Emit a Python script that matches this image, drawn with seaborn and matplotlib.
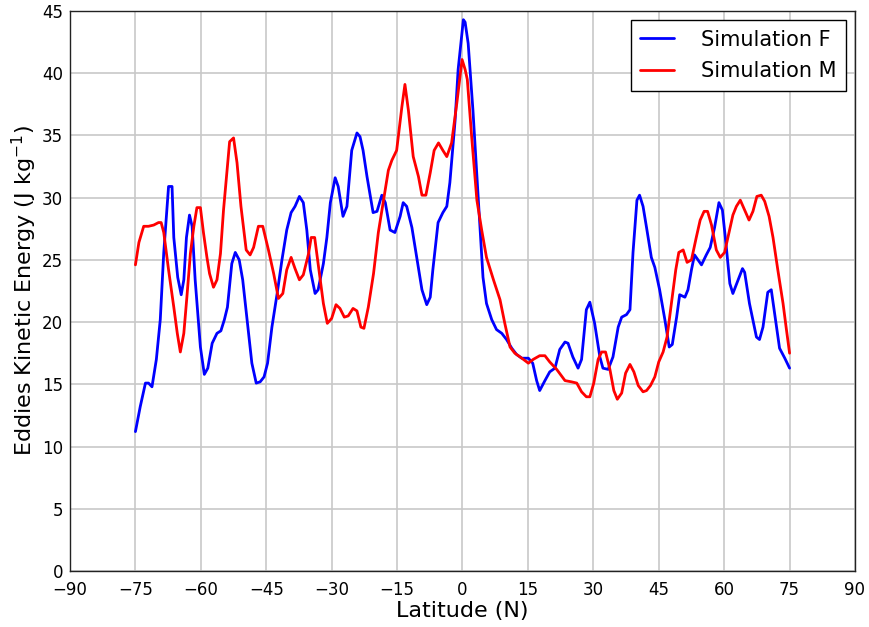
import numpy as np
import pandas as pd
import matplotlib
matplotlib.use("Agg")
import matplotlib.pyplot as plt
import seaborn as sns

lat_f = [-75.0, -73.9, -72.7, -72.0, -71.2, -70.2, -69.3, -68.5, -67.4, -66.6, -66.2, -65.3, -64.5,
         -63.9, -63.3, -62.6, -62.0, -61.3, -60.1, -59.2, -58.4, -57.4, -56.3, -55.4, -54.6, -53.9,
         -52.9, -52.1, -51.2, -50.4, -49.4, -48.3, -47.3, -46.4, -45.5, -44.7, -43.7, -42.5, -41.4,
         -40.3, -39.3, -38.4, -37.4, -36.5, -35.7, -34.9, -33.8, -33.1, -31.9, -31.1, -30.3, -29.2,
         -28.5, -27.4, -26.5, -25.4, -24.2, -23.5, -22.8, -21.9, -20.5, -19.6, -18.5, -17.7, -16.6,
         -15.5, -14.3, -13.6, -12.8, -11.6, -10.5, -9.3, -8.2, -7.4, -6.8, -5.6, -4.5, -3.6, -2.9,
         -1.7, -1.0, 0.2, 0.6, 1.3, 2.4, 3.3, 4.0, 4.7, 5.5, 6.7, 7.8, 9.0, 10.1, 11.3, 12.4, 13.6,
         15.1, 16.1, 17.0, 17.7, 18.9, 20.0, 21.2, 22.3, 23.5, 24.2, 25.3, 26.5, 27.3, 28.4, 29.2,
         30.3, 31.5, 32.2, 33.4, 34.5, 35.7, 36.5, 37.6, 38.4, 39.1, 40.0, 40.6, 41.4, 42.2, 43.3,
         44.1, 45.2, 46.4, 47.4, 48.1, 49.1, 49.8, 51.0, 51.7, 52.5, 53.2, 54.8, 55.9, 56.8, 57.8,
         58.8, 59.6, 60.5, 61.3, 62.0, 63.2, 64.2, 64.7, 65.8, 67.4, 68.1, 68.9, 70.0, 70.8, 72.0,
         72.7, 73.9, 75.0]
eke_f = [11.2, 13.2, 15.1, 15.1, 14.8, 17.0, 20.2, 25.6, 30.9, 30.9, 26.8, 23.6, 22.2,
         23.4, 26.8, 28.6, 27.7, 23.4, 18.0, 15.8, 16.3, 18.3, 19.1, 19.3, 20.2, 21.2,
         24.7, 25.6, 25.0, 23.4, 20.2, 16.7, 15.1, 15.2, 15.6, 16.7, 19.6, 22.3, 25.0,
         27.4, 28.8, 29.3, 30.1, 29.6, 27.4, 24.2, 22.3, 22.6, 24.7, 26.8, 29.6, 31.6,
         30.9, 28.5, 29.3, 33.8, 35.2, 34.9, 33.8, 31.7, 28.8, 28.9, 30.2, 29.6, 27.4,
         27.2, 28.5, 29.6, 29.3, 27.6, 25.2, 22.6, 21.4, 22.0, 24.2, 28.0, 28.8, 29.3, 31.2,
         36.2, 40.3, 44.3, 44.1, 42.4, 37.0, 31.7, 27.6, 23.6, 21.5, 20.2, 19.4, 19.1, 18.6, 17.9, 17.4, 17.1,
         17.1, 16.7, 15.3, 14.5, 15.3, 16.0, 16.3, 17.8, 18.4, 18.3, 17.2, 16.3, 17.0, 21.0, 21.6,
         19.9, 17.2, 16.3, 16.2, 17.2, 19.6, 20.4, 20.6, 21.0, 25.6, 29.8, 30.2, 29.3, 27.6, 25.2,
         24.4, 22.6, 20.2, 18.0, 18.2, 20.4, 22.2, 22.0, 22.6, 24.2, 25.4, 24.6, 25.4, 26.0, 27.6,
         29.6, 29.0, 26.0, 23.1, 22.3, 23.4, 24.3, 24.0, 21.5, 18.8, 18.6, 19.6, 22.4, 22.6, 19.6,
         17.9, 17.1, 16.3]

lat_m = [-75.0, -74.2, -73.1, -72.0, -70.8, -69.7, -69.1, -68.5, -67.4, -66.2, -65.4, -64.7, -63.9,
         -63.2, -62.4, -61.6, -60.9, -60.1, -59.4, -58.6, -58.0, -57.1, -56.3, -55.5, -54.8, -54.0,
         -53.4, -52.5, -51.7, -50.8, -49.6, -48.7, -47.9, -46.8, -45.8, -44.5, -43.3, -42.2, -41.2,
         -40.3, -39.3, -38.4, -37.4, -36.5, -35.3, -34.7, -33.9, -33.0, -31.9, -31.0, -30.0, -29.0,
         -28.1, -27.1, -26.2, -25.1, -24.2, -23.3, -22.6, -21.6, -20.4, -19.3, -18.1, -17.0, -16.2,
         -15.1, -13.9, -13.2, -12.4, -11.3, -10.1, -9.3, -8.4, -7.4, -6.5, -5.5, -4.5, -3.6, -2.5,
         -1.3, -0.1, 0.6, 1.1, 2.1, 3.3, 4.4, 5.5, 7.1, 8.6, 9.7, 10.9, 12.0, 13.6, 15.1, 16.2,
         17.7, 18.9, 20.0, 21.6, 23.5, 25.0, 26.2, 27.3, 28.4, 29.2, 30.1, 31.1, 31.9, 32.8, 33.8,
         34.7, 35.5, 36.5, 37.4, 38.4, 39.3, 40.3, 41.4, 42.2, 43.1, 44.1, 45.0, 46.0, 46.9, 47.9,
         48.9, 49.6, 50.6, 51.5, 52.5, 53.6, 54.5, 55.4, 56.2, 57.1, 58.2, 59.1, 60.1, 61.1, 62.0,
         62.8, 63.7, 64.7, 65.7, 66.6, 67.5, 68.5, 69.3, 70.3, 71.2, 72.3, 73.5, 74.2, 75.0]
eke_m = [24.6, 26.4, 27.7, 27.7, 27.8, 28.0, 28.0, 27.2, 24.2, 21.2, 19.1, 17.6, 19.1,
         22.0, 25.5, 27.7, 29.2, 29.2, 27.2, 25.2, 23.9, 22.8, 23.4, 25.5, 29.0, 32.2,
         34.5, 34.8, 32.8, 29.3, 25.8, 25.4, 26.0, 27.7, 27.7, 25.8, 23.9, 21.9, 22.3,
         24.2, 25.2, 24.3, 23.4, 23.8, 25.5, 26.8, 26.8, 24.4, 21.5, 19.9, 20.3, 21.4,
         21.1, 20.4, 20.5, 21.1, 20.9, 19.6, 19.5, 21.2, 23.9, 27.2, 29.8, 32.2, 33.0,
         33.8, 37.3, 39.1, 37.0, 33.3, 31.7, 30.2, 30.2, 32.0, 33.8, 34.4, 33.8, 33.3, 34.4,
         37.6, 41.1, 40.3, 39.5, 34.9, 29.8, 27.4, 25.2, 23.4, 21.8, 19.9, 18.0, 17.5, 17.1, 16.7, 17.0,
         17.3, 17.3, 16.8, 16.2, 15.3, 15.2, 15.1, 14.4, 14.0, 14.0, 15.1, 17.0, 17.6, 17.6, 16.2,
         14.5, 13.8, 14.3, 15.9, 16.6, 16.0, 14.9, 14.4, 14.5, 14.9, 15.6, 16.8, 17.6, 18.8, 21.5,
         24.2, 25.6, 25.8, 24.8, 25.0, 26.8, 28.2, 28.9, 28.9, 27.8, 25.8, 25.2, 25.6, 27.2, 28.6,
         29.3, 29.8, 29.0, 28.2, 28.9, 30.1, 30.2, 29.7, 28.5, 26.8, 24.2, 21.5, 19.6, 17.5]

series_names = ["Simulation F", "Simulation M"]
x_ticks = list(range(-90, 91, 15))
y_ticks = list(range(0, 46, 5))

df = pd.concat([
    pd.DataFrame({"lat": lat_f, "eke": eke_f, "sim": series_names[0]}),
    pd.DataFrame({"lat": lat_m, "eke": eke_m, "sim": series_names[1]}),
], ignore_index=True)

sns.set_style("white")
plt.rcParams["font.family"] = ["DejaVu Sans"]
plt.rcParams["axes.unicode_minus"] = True
plt.rcParams["text.color"] = "black"
plt.rcParams["axes.labelcolor"] = "black"
plt.rcParams["xtick.color"] = "black"
plt.rcParams["ytick.color"] = "black"

fig = plt.figure(figsize=(8.7, 6.27), dpi=100)
ax = fig.add_axes([70 / 870, 1 - 571 / 627, (855 - 70) / 870, (571 - 11) / 627])

sns.lineplot(data=df, x="lat", y="eke", hue="sim", sort=False, estimator=None,
             palette={"Simulation F": "#0000ff", "Simulation M": "#ff0000"},
             linewidth=2, ax=ax)

ax.set_xlim(-90, 90)
ax.set_ylim(0, 45)
ax.set_xticks(x_ticks)
ax.set_yticks(y_ticks)
ax.set_xticklabels([f"{t}".replace("-", "\u2212") for t in x_ticks])
ax.grid(True, color="#c8c8c8", linewidth=1.2, linestyle="-")
ax.set_axisbelow(True)
ax.tick_params(axis="both", length=0, labelsize=12, labelcolor="black")
ax.tick_params(axis="x", pad=7)
ax.tick_params(axis="y", pad=5)
for s in ax.spines.values():
    s.set_color("#222222")
    s.set_linewidth(1.0)
ax.set_xlabel("Latitude (N)", fontsize=16, color="black", labelpad=2)
ax.set_ylabel(r"Eddies Kinetic Energy (J kg$^{-1}$)", fontsize=16, color="black", labelpad=2)

leg = ax.legend(loc="upper right", fontsize=15, frameon=True, fancybox=False,
                edgecolor="black", framealpha=1, handlelength=1.6, handletextpad=1.3,
                borderpad=0.45, borderaxespad=0.45, labelspacing=0.55)
leg.get_frame().set_linewidth(1.0)
for t in leg.get_texts():
    t.set_color("black")

fig.savefig("out.png", dpi=100)
